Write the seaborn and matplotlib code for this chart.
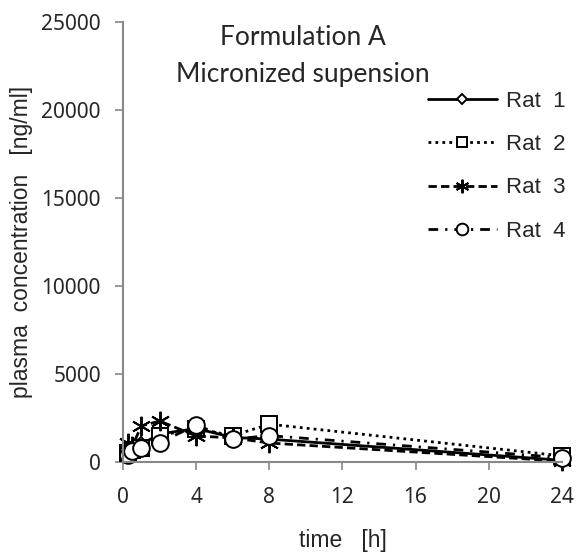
import numpy as np
import pandas as pd
import matplotlib
matplotlib.use("Agg")
import matplotlib.pyplot as plt
import seaborn as sns

time_h = [0.25, 0.5, 1, 2, 4, 6, 8, 24]
rat1 = [500, 700, 1000, 1600, 1900, 1400, 1300, 100]
rat2 = [500, 700, 800, 1500, 1900, 1500, 2150, 350]
rat3 = [1080, 900, 2050, 2330, 1480, 1370, 1080, 50]
rat4 = [400, 600, 800, 1100, 2100, 1300, 1500, 250]
rat_names = ["Rat  1", "Rat  2", "Rat  3", "Rat  4"]

df = pd.DataFrame({
    "time": time_h * 4,
    "conc": rat1 + rat2 + rat3 + rat4,
    "rat": np.repeat(rat_names, len(time_h)),
})

sns.set_style("white")
# tick labels use the default family; axis labels and legend use Arial-like font
plt.rcParams['font.family'] = ['Noto Sans', 'DejaVu Sans']
arial = ['Liberation Sans', 'DejaVu Sans']

styles = {
    "Rat  1": dict(ls="-", marker="D", ms=7),
    "Rat  2": dict(ls=(0, (1, 1.5)), marker="s", ms=11),
    "Rat  3": dict(ls=(0, (3, 1.5)), marker=(6, 2, 0), ms=14),
    "Rat  4": dict(ls=(0, (3.5, 2.5, 0.8, 2.5)), marker="o", ms=12),
}

fig, ax = plt.subplots(figsize=(5.78, 5.58), dpi=100)
fig.subplots_adjust(left=0.213, right=0.972, top=0.9606, bottom=0.172)

for name in rat_names:
    s = styles[name]
    sub = df[df["rat"] == name]
    sns.lineplot(data=sub, x="time", y="conc", ax=ax, color="black", lw=2,
                 linestyle=s["ls"], marker=s["marker"], markersize=s["ms"],
                 markerfacecolor="white", markeredgecolor="black",
                 markeredgewidth=1.4, label=name, clip_on=False)

ax.set_xlim(0, 24)
ax.set_ylim(0, 25000)
ax.set_xticks(range(0, 25, 4))
ax.set_yticks(range(0, 25001, 5000))
ax.set_xlabel("time   [h]", fontsize=16.5, labelpad=15, family=arial)
ax.set_ylabel("plasma  concentration   [ng/ml]", fontsize=16.5, labelpad=6, family=arial)
ax.tick_params(labelsize=15, direction="out", length=6, width=1.2, color="#888888",
               left=True, bottom=True)
ax.tick_params(axis="x", pad=12)
ax.tick_params(axis="y", pad=10)
for sp in ["top", "right"]:
    ax.spines[sp].set_visible(False)
for sp in ["left", "bottom"]:
    ax.spines[sp].set_color("#888888")
    ax.spines[sp].set_linewidth(1.5)

fig.text(303 / 578, 1 - 45 / 558, "Formulation A", ha="center", va="baseline",
         fontsize=19, family=["Lato", "DejaVu Sans"])
fig.text(303 / 578, 1 - 82 / 558, "Micronized supension", ha="center", va="baseline",
         fontsize=19, family=["Lato", "DejaVu Sans"])

ax.legend(loc="upper left", bbox_to_anchor=(428 / 578, 1 - 91 / 558),
          bbox_transform=fig.transFigure, frameon=False, borderpad=0,
          borderaxespad=0, handlelength=3.1, labelspacing=1.0,
          handletextpad=0.4, markerscale=0.7,
          prop={'family': arial, 'size': 16})

fig.savefig("out.png", dpi=100)
